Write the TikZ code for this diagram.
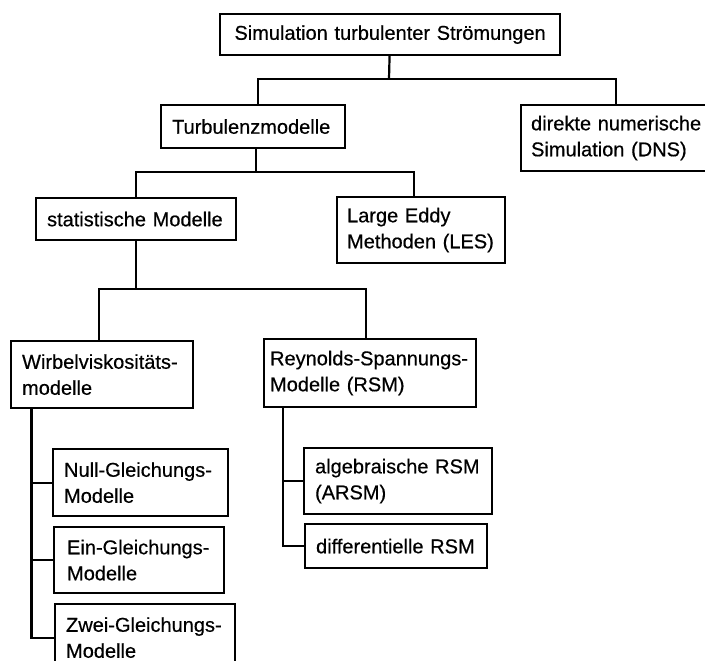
\documentclass[tikz,border=0pt]{standalone}
\usepackage{fontspec}
\setmainfont{Liberation Sans}
\newfontfamily\boxfont[FakeBold=0.5]{Liberation Sans}
\usepackage{tikz}
\usetikzlibrary{calc, positioning}

\begin{document}
\begin{tikzpicture}[x=1pt, y=-1pt,
    box/.style={draw, line width=2.2pt, anchor=north west, align=left, inner ysep=0pt,
                font=\boxfont\fontsize{20}{26}\selectfont},
    link/.style={line width=2.2pt}]
  \useasboundingbox (0,0) rectangle (705,661);
  \clip (0,0) rectangle (705,661);

  % level 0 and 1
  \node[box, align=center, text width=318pt, inner xsep=11pt, minimum height=41pt] (sim) at (219,13) {Simulation turbulenter Strömungen};
  \node[box, text width=162pt, inner xsep=11pt, minimum height=43pt] (turb) at (160,104) {Turbulenzmodelle};
  \node[box, text width=176pt, inner xsep=10pt, minimum height=66pt] (dns) at (520,104) {direkte numerische\\Simulation (DNS)};

  % level 2
  \node[box, text width=178pt, inner xsep=11pt, minimum height=42pt] (stat) at (35,197) {statistische Modelle};
  \node[box, text width=148pt, inner xsep=10pt, minimum height=66pt] (les) at (336,196) {Large Eddy\\Methoden (LES)};

  % level 3
  \node[box, text width=160pt, inner xsep=11pt, minimum height=67pt] (wirb) at (10,340) {Wirbelviskositäts-\\modelle};
  \node[box, text width=200pt, inner xsep=6pt, minimum height=68pt] (rsm) at (263,338) {Reynolds-Spannungs-\\Modelle (RSM)};

  % leaves
  \node[box, text width=153pt, inner xsep=11pt, minimum height=67pt] (null) at (52,448) {Null-Gleichungs-\\Modelle};
  \node[box, text width=144pt, inner xsep=13pt, minimum height=66pt] (ein) at (53,526) {Ein-Gleichungs-\\Modelle};
  \node[box, text width=158pt, inner xsep=11pt, minimum height=67pt] (zwei) at (54,603) {Zwei-Gleichungs-\\Modelle};
  \node[box, text width=166pt, inner xsep=11pt, minimum height=66pt] (alg) at (303,447) {algebraische RSM\\(ARSM)};
  \node[box, text width=160pt, inner xsep=11pt, minimum height=44pt] (diff) at (304,523) {differentielle RSM};

  % tree connectors
  \coordinate (j0) at (389,79);
  \coordinate (j1) at (256,172);
  \coordinate (j2) at (136,289);
  \draw[link] (sim) -- (j0);
  \draw[link] (j0) -| ([xshift=5pt]turb.north);
  \draw[link] (j0) -| ([xshift=-3pt]dns.north);
  \draw[link] (turb.south -| j1) -- (j1);
  \draw[link] (j1) -| (stat);
  \draw[link] (j1) -| ([xshift=-7pt]les.north);
  \draw[link] (stat.south -| j2) -- (j2);
  \draw[link] (j2) -| ([xshift=-3pt]wirb.north);
  \draw[link] (j2) -| ([xshift=-4pt]rsm.north);

  % side branches
  \coordinate (w0) at ([xshift=21.5pt]wirb.south west);
  \coordinate (r0) at ([xshift=20pt]rsm.south west);
  \draw[link] (w0) |- (null);
  \draw[link] (w0) |- (ein);
  \draw[link] (w0) |- (zwei);
  \draw[link] (r0) |- (alg);
  \draw[link] (r0) |- (diff);
\end{tikzpicture}
\end{document}
